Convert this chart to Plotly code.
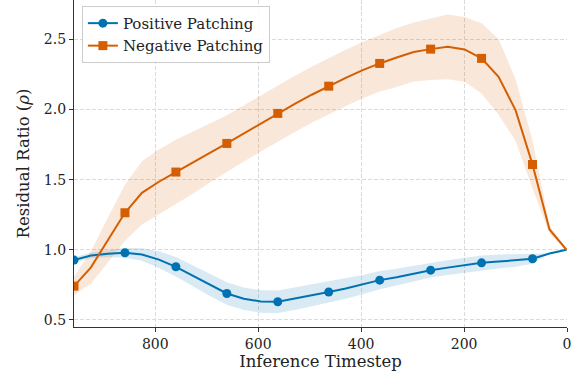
import plotly.graph_objects as go

timesteps = [958, 925, 892, 859, 826, 793, 760, 727, 694, 661, 628, 595, 562, 529, 496,
             463, 430, 397, 364, 331, 298, 265, 232, 199, 166, 133, 100, 67, 34, 1]

pos_mean = [0.927, 0.96, 0.972, 0.979, 0.967, 0.93, 0.879, 0.815, 0.75, 0.689, 0.652, 0.632,
            0.63, 0.652, 0.675, 0.699, 0.724, 0.752, 0.784, 0.805, 0.83, 0.855, 0.873, 0.89,
            0.907, 0.916, 0.925, 0.936, 0.974, 1.0]
pos_std = [0.02, 0.02, 0.025, 0.035, 0.045, 0.06, 0.07, 0.075, 0.08, 0.08, 0.08, 0.08, 0.08,
           0.08, 0.078, 0.077, 0.072, 0.068, 0.065, 0.06, 0.057, 0.053, 0.053, 0.053, 0.053,
           0.05, 0.045, 0.035, 0.0, 0.0]

neg_mean = [0.741, 0.875, 1.07, 1.264, 1.406, 1.485, 1.554, 1.62, 1.69, 1.758, 1.83, 1.90,
            1.972, 2.04, 2.105, 2.166, 2.225, 2.28, 2.328, 2.37, 2.41, 2.43, 2.446, 2.428,
            2.364, 2.233, 1.995, 1.608, 1.145, 1.0]
neg_std = [0.065, 0.115, 0.16, 0.2, 0.225, 0.23, 0.23, 0.22, 0.21, 0.2, 0.2, 0.2, 0.2, 0.2,
           0.2, 0.2, 0.2, 0.2, 0.2, 0.21, 0.21, 0.22, 0.23, 0.23, 0.25, 0.27, 0.22, 0.17,
           0.03, 0.0]

series = [
    ("Positive Patching", pos_mean, pos_std, "#0072B2", "rgba(0,114,178,0.15)", "circle"),
    ("Negative Patching", neg_mean, neg_std, "#D55E00", "rgba(213,94,0,0.15)", "square"),
]

marker_every = 3
n_marked = 28  # markers on every 3rd of the first 28 points
font_family = "DejaVu Serif"

fig = go.Figure()
for name, mean, std, color, fillc, symbol in series:
    upper = [m + s for m, s in zip(mean, std)]
    lower = [m - s for m, s in zip(mean, std)]
    fig.add_trace(go.Scatter(x=timesteps, y=upper, mode="lines", line=dict(width=0),
                             showlegend=False, hoverinfo="skip"))
    fig.add_trace(go.Scatter(x=timesteps, y=lower, mode="lines", line=dict(width=0),
                             fill="tonexty", fillcolor=fillc, showlegend=False, hoverinfo="skip"))

for name, mean, std, color, fillc, symbol in series:
    fig.add_trace(go.Scatter(x=timesteps, y=mean, mode="lines", name=name,
                             line=dict(color=color, width=2), showlegend=False,
                             legendgroup=name))
    fig.add_trace(go.Scatter(x=timesteps[:n_marked:marker_every], y=mean[:n_marked:marker_every],
                             mode="markers", showlegend=False, legendgroup=name,
                             marker=dict(symbol=symbol, size=9, color=color, opacity=1,
                                         line=dict(width=0))))
    # legend entry
    fig.add_trace(go.Scatter(x=[None], y=[None], mode="lines+markers", name=name,
                             legendgroup=name, line=dict(color=color, width=2),
                             marker=dict(symbol=symbol, size=9, color=color, opacity=1,
                                         line=dict(width=0))))

axis_common = dict(showline=True, linecolor="#333333", linewidth=1.2, ticks="outside",
                   ticklen=4, tickcolor="#333333", mirror=False, zeroline=False,
                   showgrid=True, gridcolor="#dadada", griddash="4px,2px", gridwidth=0.8,
                   automargin=False,
                   tickfont=dict(family=font_family, size=14, color="#222222"))

fig.update_layout(
    width=584, height=381,
    margin=dict(l=74, r=17, t=0, b=54, pad=0),
    paper_bgcolor="white", plot_bgcolor="white",
    font=dict(family=font_family, color="#222222"),
    xaxis=dict(range=[958, 0], tickvals=[800, 600, 400, 200, 0], ticklabelstandoff=0,
               title=dict(text="Inference Timestep", font=dict(family=font_family, size=16.5),
                          standoff=4),
               **axis_common),
    yaxis=dict(range=[0.45, 2.78], tickvals=[0.5, 1.0, 1.5, 2.0, 2.5],
               ticktext=["0.5", "1.0", "1.5", "2.0", "2.5"],
               title=dict(text="Residual Ratio (<i>ρ</i>)", font=dict(family=font_family, size=16.5),
                          standoff=10),
               **axis_common),
    legend=dict(x=0.016, y=0.982, xanchor="left", yanchor="top", traceorder="normal",
                bgcolor="rgba(255,255,255,0.85)", bordercolor="#cccccc", borderwidth=1,
                font=dict(family=font_family, size=15), tracegroupgap=0,
                itemwidth=30),
    showlegend=True,
)

fig.write_html("out.html", config={"displayModeBar": False},
               post_script="document.body.style.margin='0';document.body.style.padding='0';")
